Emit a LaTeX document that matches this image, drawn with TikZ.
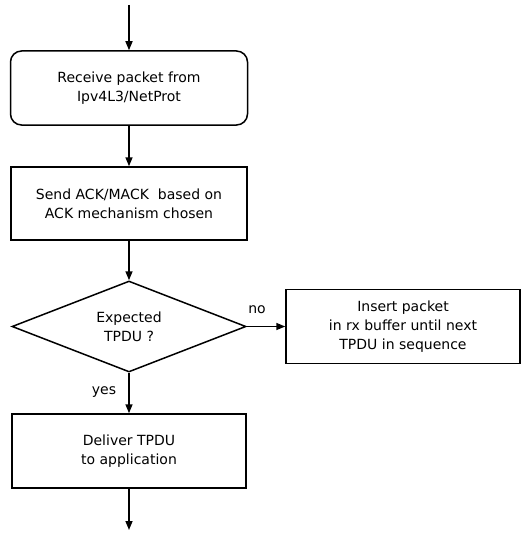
\documentclass[tikz,border=0pt]{standalone}
\usepackage{fontspec}
\setmainfont{DejaVu Sans}
\usetikzlibrary{arrows.meta,shapes.geometric}
\begin{document}
\begin{tikzpicture}[x=1pt,y=-1pt,
  every node/.style={font=\fontsize{14}{19}\selectfont},
  stepbox/.style={draw,line width=1.5pt,align=center,inner sep=0pt},
  flow/.style={draw,line width=1.5pt,-{Triangle[length=9pt,width=7pt]}},
  lbl/.style={inner sep=0pt}]
\useasboundingbox (0,0) rectangle (532,535);
\node[stepbox,rounded corners=11pt,minimum width=237pt,minimum height=74pt] (recv) at (129,88) {Receive packet from\\Ipv4L3/NetProt};
\node[stepbox,minimum width=236pt,minimum height=73pt] (ack) at (129,203.5) {Send ACK/MACK\ \ based on\\ACK mechanism chosen};
\node[stepbox,diamond,aspect=2.57,minimum width=234pt,minimum height=91pt] (exp) at (129,326.5) {Expected\\TPDU ?};
\node[stepbox,minimum width=234pt,minimum height=74pt] (ins) at (403,326.5) {Insert packet\\in rx buffer until next\\TPDU in sequence};
\node[stepbox,minimum width=234pt,minimum height=74pt] (dlv) at (129,451) {Deliver TPDU\\to application};
\coordinate (start) at (129,5);
\coordinate (finish) at (129,530);
\draw[flow] (start) -- (recv.north);
\draw[flow] (recv.south) -- (ack.north);
\draw[flow] (ack.south) -- (exp.north);
\draw[flow] (exp.east) -- (ins.west);
\draw[flow] (exp.south) -- (dlv.north);
\draw[flow] (dlv.south) -- (finish);
\node[lbl] (no) at (257,310) {no};
\node[lbl] (yes) at (104,392) {yes};
\end{tikzpicture}
\end{document}
